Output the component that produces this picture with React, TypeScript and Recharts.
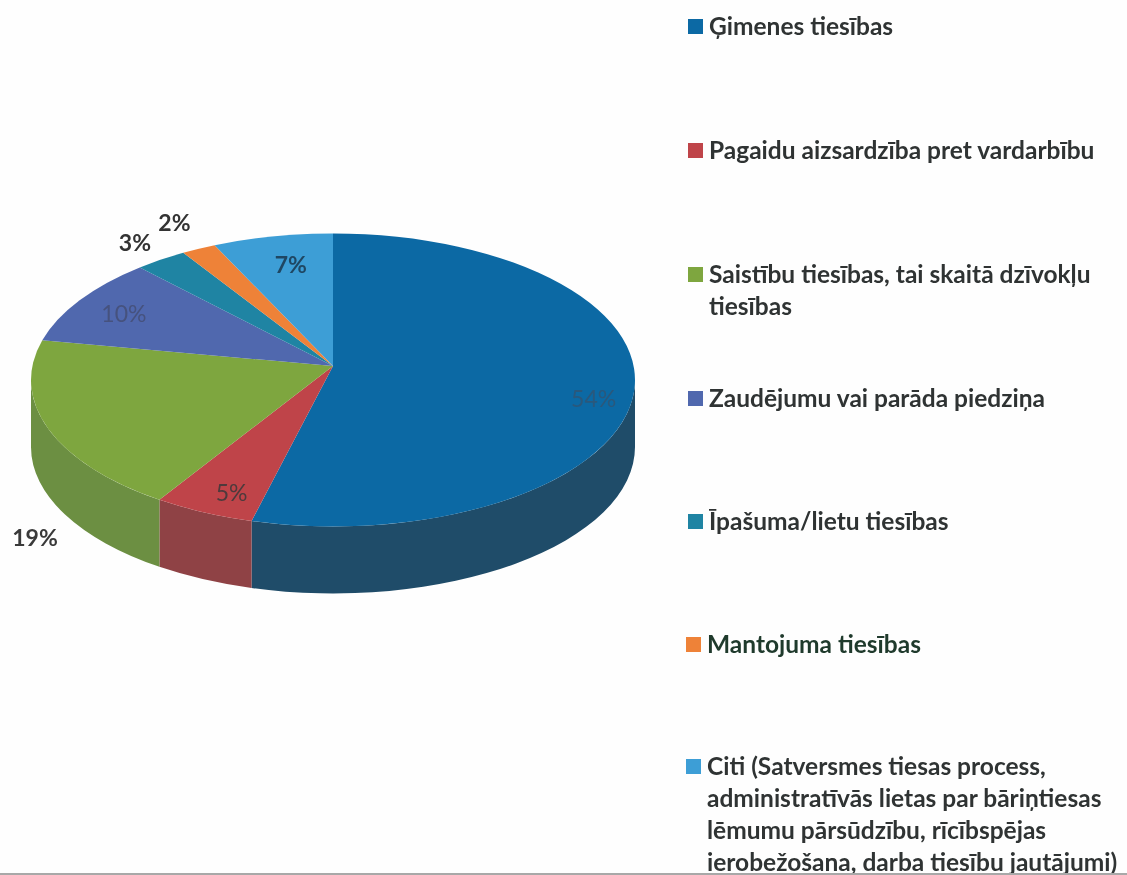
import { Legend, Pie, PieChart } from "recharts";

const categories = [
  "Ģimenes tiesības",
  "Pagaidu aizsardzība pret vardarbību",
  "Saistību tiesības, tai skaitā dzīvokļu tiesības",
  "Zaudējumu vai parāda piedziņa",
  "Īpašuma/lietu tiesības",
  "Mantojuma tiesības",
  "Citi (Satversmes tiesas process, administratīvās lietas par bāriņtiesas lēmumu pārsūdzību, rīcībspējas ierobežošana, darba tiesību jautājumi)",
];
const shares = [54, 5, 19, 10, 3, 2, 7];

const topColors = ["#0c69a4", "#bf4449", "#7ea63f", "#5068ae", "#1f84a3", "#ee8238", "#3d9ed6"];
const wallColors = ["#1f4c69", "#8f4245", "#6c8f42", "#3f5288", "#186a84", "#b8632a", "#2f7ba8"];

// radial factor, then vertical nudge, for each percentage label
const labelPlacement = [
  [0.87, 2],
  [0.845, -2],
  [1.075, 94],
  [0.79, -11],
  [1.07, -14],
  [1.09, -18],
  [0.64, -25],
];
const labelColors = ["#2a587c", "#4d3a3c", "#3a3a3a", "#46527e", "#333333", "#333333", "#1f4763"];

const legendTops = [10, 134, 258, 382, 505, 628, 750];
const legendLefts = [688, 688, 688, 688, 688, 686, 686];
const legendWidths = [435, 435, 410, 435, 435, 435, 441];

const rows = categories.map((name, i) => ({
  name,
  value: shares[i],
  fill: topColors[i],
  wall: wallColors[i],
}));

const SQUASH = 0.485;
const CENTER_DROP = 14;
const DEPTH = 67;
const PERSPECTIVE = 5; // degrees of apparent angle shift in the tilted view

// t is clockwise from the top of the disc, in degrees
function onRim(cx: number, cy: number, r: number, t: number) {
  const a = (t * Math.PI) / 180;
  return [cx + r * Math.sin(a), cy + CENTER_DROP - r * SQUASH * Math.cos(a)];
}

function viewAngle(rechartsAngle: number) {
  const t = 90 - rechartsAngle;
  return t - PERSPECTIVE * Math.sin((t * Math.PI) / 180);
}

// flat recharts sector -> tilted disc slice with its front wall
function TiltedSlice(props: any) {
  const { cx, cy, outerRadius: r, startAngle, endAngle, fill, payload } = props;
  const ry = r * SQUASH;
  const t0 = viewAngle(startAngle);
  const t1 = viewAngle(endAngle);
  const [sx, sy] = onRim(cx, cy, r, t0);
  const [ex, ey] = onRim(cx, cy, r, t1);
  const large = t1 - t0 > 180 ? 1 : 0;
  const top = `M${cx},${cy} L${sx},${sy} A${r},${ry} 0 ${large} 1 ${ex},${ey} Z`;

  // only the front half of the rim shows a wall
  const wallStart = Math.max(t0, 90);
  const wallEnd = Math.min(t1, 270);
  let wall = null;
  if (wallStart < wallEnd) {
    const [ax, ay] = onRim(cx, cy, r, wallStart);
    const [bx, by] = onRim(cx, cy, r, wallEnd);
    wall = (
      <path
        d={`M${ax},${ay} A${r},${ry} 0 0 1 ${bx},${by} L${bx},${by + DEPTH} A${r},${ry} 0 0 0 ${ax},${ay + DEPTH} Z`}
        fill={payload?.wall ?? props.wall}
      />
    );
  }
  return (
    <g>
      {wall}
      <path d={top} fill={fill} />
    </g>
  );
}

function SliceLabel(props: any) {
  const { cx, cy, midAngle, outerRadius, index, value } = props;
  const [f, nudge] = labelPlacement[index];
  const [x, y] = onRim(cx, cy, outerRadius * f, 90 - midAngle);
  return (
    <text
      x={x}
      y={y + nudge}
      fill={labelColors[index]}
      fontSize={23}
      fontWeight={index === 2 || index === 4 || index === 5 || index === 6 ? 700 : 400}
      fontFamily="Lato"
      textAnchor="middle"
      dominantBaseline="central"
    >
      {value}%
    </text>
  );
}

function LegendList({ payload }: any) {
  return (
    <div>
      {(payload ?? []).map((item: any, i: number) => (
        <div
          key={item.value}
          style={{
            position: "absolute",
            left: legendLefts[i],
            top: legendTops[i],
            width: legendWidths[i],
            display: "flex",
            fontFamily: "Lato",
            fontWeight: 700,
            fontSize: 24.5,
            lineHeight: "32px",
            color: i === 5 ? "#1f3a2c" : "#2f3333",
          }}
        >
          <span
            style={{
              flex: "0 0 15px",
              height: 15,
              marginTop: 9,
              marginRight: 6,
              background: item.color,
            }}
          />
          <span>{item.value}</span>
        </div>
      ))}
    </div>
  );
}

export default function App() {
  return (
    <div
      style={{
        position: "absolute",
        left: 0,
        top: 0,
        width: 1127,
        height: 875,
        overflow: "hidden",
        background: "#fefefe",
        filter: "blur(0.5px)",
      }}
    >
      <PieChart width={1127} height={875} margin={{ top: 0, right: 0, bottom: 0, left: 0 }}>
        <Pie
          data={rows}
          dataKey="value"
          nameKey="name"
          cx={333}
          cy={366}
          outerRadius={302}
          startAngle={90}
          endAngle={-270}
          stroke="none"
          shape={TiltedSlice}
          label={SliceLabel}
          labelLine={false}
          isAnimationActive={false}
        />
        <Legend
          content={LegendList}
          itemSorter={null}
          wrapperStyle={{ position: "absolute", left: 0, top: 0, width: 1127, height: 875 }}
        />
      </PieChart>
      <div
        style={{
          position: "absolute",
          left: 0,
          top: 873,
          width: 1127,
          height: 2,
          background: "#a8a8a8",
        }}
      />
    </div>
  );
}
